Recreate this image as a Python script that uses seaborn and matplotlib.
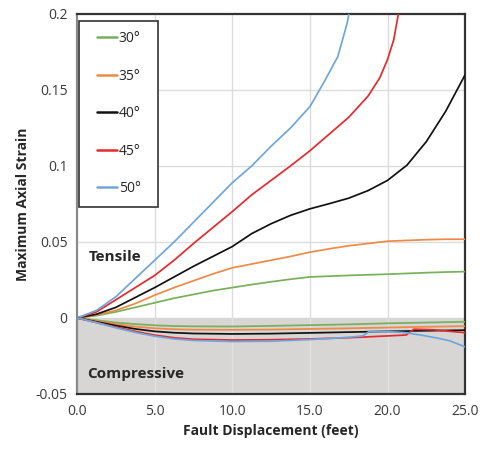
import numpy as np
import pandas as pd
import matplotlib
matplotlib.use("Agg")
import matplotlib.pyplot as plt
from matplotlib.lines import Line2D
from matplotlib.legend_handler import HandlerLine2D
import seaborn as sns

# fault angle series
angles = ["30°", "35°", "40°", "45°", "50°"]
colors = ["#77b05a", "#ee8a45", "#111111", "#e52a2e", "#6fa6dc"]

# tensile branch
t_x30 = [0, 1.25, 2.5, 3.75, 5, 6.25, 7.5, 8.75, 10, 11.25, 12.5, 13.75, 15, 16.25, 17.5, 18.75, 20, 21.25, 22.5, 23.75, 25]
t_y30 = [0, 0.0015, 0.004, 0.007, 0.010, 0.013, 0.0155, 0.018, 0.020, 0.022, 0.0238, 0.0255, 0.027, 0.0275, 0.028, 0.0284, 0.0288, 0.0293, 0.0298, 0.0302, 0.0305]
t_x35 = t_x30
t_y35 = [0, 0.002, 0.005, 0.0095, 0.015, 0.020, 0.0245, 0.029, 0.033, 0.0355, 0.038, 0.0405, 0.0433, 0.0455, 0.0475, 0.049, 0.0505, 0.051, 0.0515, 0.0518, 0.0518]
t_x40 = t_x30
t_y40 = [0, 0.0025, 0.007, 0.0135, 0.020, 0.027, 0.034, 0.0405, 0.047, 0.0555, 0.062, 0.0675, 0.0718, 0.0752, 0.0788, 0.0838, 0.0905, 0.1005, 0.116, 0.136, 0.160]
t_x45 = [0, 1.25, 2.5, 3.75, 5, 6.25, 7.5, 8.75, 10, 11.25, 12.5, 13.75, 15, 16.25, 17.5, 18.75, 19.5, 20, 20.4, 20.7, 20.9]
t_y45 = [0, 0.004, 0.012, 0.020, 0.028, 0.038, 0.049, 0.0595, 0.070, 0.081, 0.0905, 0.100, 0.110, 0.121, 0.132, 0.146, 0.158, 0.170, 0.183, 0.200, 0.215]
t_x50 = [0, 1.25, 2.5, 3.75, 5, 6.25, 7.5, 8.75, 10, 11.25, 12.5, 13.75, 15, 15.9, 16.8, 17.4, 17.7]
t_y50 = [0, 0.005, 0.014, 0.026, 0.038, 0.050, 0.063, 0.076, 0.089, 0.100, 0.113, 0.125, 0.139, 0.155, 0.172, 0.194, 0.210]

# compressive branch
c_x30 = [0, 1.25, 2.5, 3.75, 5, 6.25, 7.5, 10, 12.5, 15, 17.5, 20, 22.5, 25]
c_y30 = [0, -0.0015, -0.003, -0.004, -0.0048, -0.0053, -0.0055, -0.0056, -0.0052, -0.0047, -0.0042, -0.0035, -0.003, -0.0025]
c_x35 = c_x30
c_y35 = [0, -0.002, -0.004, -0.0057, -0.0068, -0.0074, -0.0077, -0.0078, -0.0076, -0.0072, -0.0068, -0.0063, -0.0058, -0.0054]
c_x40 = c_x30
c_y40 = [0, -0.0025, -0.005, -0.0072, -0.0088, -0.0097, -0.0102, -0.0105, -0.0103, -0.0098, -0.0093, -0.0088, -0.0084, -0.008]
c_x45 = [0, 1.25, 2.5, 3.75, 5, 6.25, 7.5, 10, 12.5, 15, 17.5, 20, 21.2, 21.7, 23, 25]
c_y45 = [0, -0.003, -0.006, -0.0088, -0.0113, -0.013, -0.014, -0.0145, -0.0143, -0.0138, -0.013, -0.0118, -0.0112, -0.0074, -0.0078, -0.0097]
c_x50 = [0, 1.25, 2.5, 3.75, 5, 6.25, 7.5, 10, 12.5, 15, 17.5, 18.4, 18.8, 20, 21, 22, 23, 24, 25]
c_y50 = [0, -0.003, -0.0065, -0.0095, -0.012, -0.0138, -0.0148, -0.0155, -0.0153, -0.0142, -0.0127, -0.0118, -0.009, -0.009, -0.0095, -0.011, -0.0128, -0.015, -0.019]

t_x = [t_x30, t_x35, t_x40, t_x45, t_x50]
t_y = [t_y30, t_y35, t_y40, t_y45, t_y50]
c_x = [c_x30, c_x35, c_x40, c_x45, c_x50]
c_y = [c_y30, c_y35, c_y40, c_y45, c_y50]

tens = pd.concat([pd.DataFrame({"disp": x, "strain": y, "angle": a}) for a, x, y in zip(angles, t_x, t_y)])
comp = pd.concat([pd.DataFrame({"disp": x, "strain": y, "angle": a}) for a, x, y in zip(angles, c_x, c_y)])

sns.set_theme(style="white")
plt.rcParams["font.family"] = ["Open Sans", "DejaVu Sans"]

fig = plt.figure(figsize=(4.82, 4.49), dpi=100)
ax = fig.add_axes([0.16, 0.1225, 0.805, 0.8465])

ax.axhspan(-0.05, 0, color="#d8d5d5", zorder=0)
for xv in [5, 10, 15, 20]:
    ax.axvline(xv, color="#dcdcdc", lw=1, zorder=0.5)
    ax.plot([xv, xv], [-0.05, 0], color="#e2e0e0", lw=1, zorder=0.6)
for yv in [0.05, 0.1, 0.15]:
    ax.axhline(yv, color="#dcdcdc", lw=1, zorder=0.5)

pal = dict(zip(angles, colors))
sns.lineplot(data=tens, x="disp", y="strain", hue="angle", palette=pal, sort=False,
             estimator=None, lw=1.25, ax=ax, zorder=3)
sns.lineplot(data=comp, x="disp", y="strain", hue="angle", palette=pal, sort=False,
             estimator=None, lw=1.25, ax=ax, legend=False, zorder=3)

ax.set_xlim(0, 25)
ax.set_ylim(-0.05, 0.2)
ax.set_xticks([0, 5, 10, 15, 20, 25])
ax.set_xticklabels(["0.0", "5.0", "10.0", "15.0", "20.0", "25.0"])
ax.set_yticks([-0.05, 0, 0.05, 0.1, 0.15, 0.2])
ax.set_yticklabels(["-0.05", "0", "0.05", "0.1", "0.15", "0.2"])
ax.tick_params(length=0, labelsize=10, colors="#3a3a3a", pad=7)

ax.set_xlabel("Fault Displacement (feet)", fontsize=10, fontweight="bold")
ax.set_ylabel("Maximum Axial Strain", fontsize=10, fontweight="bold")

for side, sp in ax.spines.items():
    sp.set_color("#333333")
    sp.set_linewidth(1.6)
ax.spines["left"].set_color("#8a8a8a")

ax.text(0.75, 0.040, "Tensile", fontsize=11, fontweight="bold", va="center")
ax.text(0.65, -0.0368, "Compressive", fontsize=11, fontweight="bold", va="center")

leg = ax.legend(loc="upper left", bbox_to_anchor=(0.005, 0.982, 0.204, 0), mode="expand",
                borderaxespad=0, fontsize=10, labelspacing=1.62, handlelength=2.0,
                handletextpad=0.1, borderpad=0.75, fancybox=False, framealpha=1, title=None,
                handler_map={Line2D: HandlerLine2D(xpad=0.55)})
leg.get_frame().set_edgecolor("#333333")
leg.get_frame().set_linewidth(1.2)
for h in leg.get_lines():
    h.set_linewidth(1.8)

fig.savefig("out.png", dpi=100)
